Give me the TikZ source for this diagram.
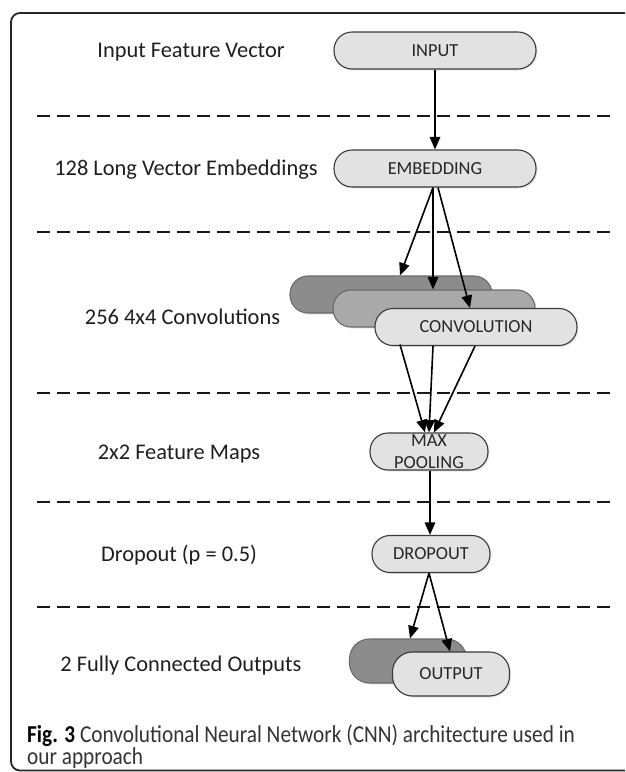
\documentclass[tikz,border=0pt]{standalone}
\usepackage{fontspec}
\setmainfont{Carlito}
\usetikzlibrary{arrows.meta,shadows}
\definecolor{boxfill}{HTML}{E2E2E2}
\definecolor{boxline}{HTML}{3A3A3A}
\definecolor{darkfill}{HTML}{8C8C8C}
\definecolor{midfill}{HTML}{A9A9A9}
\definecolor{darkline}{HTML}{6A6A6A}
\definecolor{framecol}{HTML}{262626}
\definecolor{labelcol}{HTML}{1E1E1E}
\definecolor{captioncol}{HTML}{333333}
\begin{document}
\begin{tikzpicture}[x=1pt,y=-1pt,
  boxbase/.style={line width=1.1pt, rounded corners=18pt, inner sep=0pt,
    minimum height=37pt, font=\fontsize{18.4}{22.4}\selectfont, text=black!85,
    align=center, drop shadow={opacity=0.18, shadow xshift=1.5pt, shadow yshift=-1.5pt}},
  widebox/.style={boxbase, draw=boxline, fill=boxfill, minimum width=202pt},
  narrowbox/.style={boxbase, draw=boxline, fill=boxfill, minimum width=118pt},
  darkbox/.style={boxbase, draw=darkline, fill=darkfill},
  midbox/.style={boxbase, draw=darkline, fill=midfill},
  outbox/.style={minimum height=44pt, rounded corners=20pt, minimum width=117pt},
  arr/.style={-{Triangle[length=12.5pt,width=10.5pt]}, line width=1.6pt, black},
  sep/.style={line width=2.4pt, dash pattern=on 13pt off 7pt, black!90},
  lab/.style={anchor=base, inner sep=0pt, font=\fontsize{22.4}{26}\selectfont, text=labelcol},
  captext/.style={anchor=base west, inner sep=0pt, font=\fontsize{21.3}{24}\selectfont, text=captioncol}
]
\clip (0,0) rectangle (625,772);
\useasboundingbox (0,0) rectangle (625,772);

% frame
\coordinate (ftr) at (660,13);
\coordinate (ftl) at (11,13);
\coordinate (fbl) at (11,770.5);
\coordinate (fbr) at (660,770.5);
\draw[framecol, line width=1.8pt, rounded corners=9pt] (ftr) -- (ftl) -- (fbl) -- (fbr);

% dashed separators
\foreach \i/\yy in {1/116, 2/232, 3/393, 4/502, 5/607}{
  \coordinate (d\i l) at (37,\yy);
  \coordinate (d\i r) at (612,\yy);
  \draw[sep] (d\i l) -- (d\i r);
}

% left labels
\node[lab] (l1) at (191,57.5) {Input Feature Vector};
\node[lab] (l2) at (186,175) {128 Long Vector Embeddings};
\node[lab] (l3) at (182.5,324) {256 4x4 Convolutions};
\node[lab] (l4) at (179,459) {2x2 Feature Maps};
\node[lab] (l5) at (179,561) {Dropout (p = 0.5)};
\node[lab] (l6) at (181,671) {2 Fully Connected Outputs};

% boxes
\node[widebox] (inp) at (435,50.5) {INPUT};
\node[widebox] (emb) at (435,168.5) {EMBEDDING};
\node[darkbox, minimum width=202pt] (convA) at (391,294.5) {};
\node[midbox, minimum width=202pt] (convB) at (434,308.5) {};
\node[widebox] (conv) at (476,327) {CONVOLUTION};
\node[narrowbox] (pool) at (429,451.5) {MAX\\[-1pt]POOLING};
\node[narrowbox] (drop) at (431,554) {DROPOUT};
\node[darkbox, outbox] (outA) at (408,661) {};
\node[narrowbox, outbox] (outB) at (451,674) {OUTPUT};

% arrows
\draw[arr] (inp.south) -- (emb.north);
\draw[arr] ([xshift=-2pt]emb.south) -- ([xshift=9pt]convA.north);
\draw[arr] ([xshift=-2pt]emb.south) -- ([xshift=-1pt]convB.north);
\draw[arr] ([xshift=3pt]emb.south) -- ([xshift=-6pt]conv.north);
\draw[arr] ([xshift=-76pt,yshift=1.5pt]conv.south) -- ([xshift=-4pt]pool.north);
\draw[arr] ([xshift=-43pt]conv.south) -- ([xshift=0pt]pool.north);
\draw[arr] ([xshift=-1pt]conv.south) -- ([xshift=5pt]pool.north);
\draw[arr] ([xshift=1pt]pool.south) -- ([xshift=-1pt]drop.north);
\draw[arr] ([xshift=-2pt]drop.south) -- ([xshift=2pt]outA.north);
\draw[arr] ([xshift=-2pt]drop.south) -- ([xshift=-1pt]outB.north);

% caption
\node[captext] (c1) at (27,742) {\scalebox{1}[1.14]{{\color{black}\bfseries Fig. 3} Convolutional Neural Network (CNN) architecture used in}};
\node[captext] (c2) at (27,764) {\scalebox{1}[1.14]{our approach}};
\end{tikzpicture}
\end{document}
